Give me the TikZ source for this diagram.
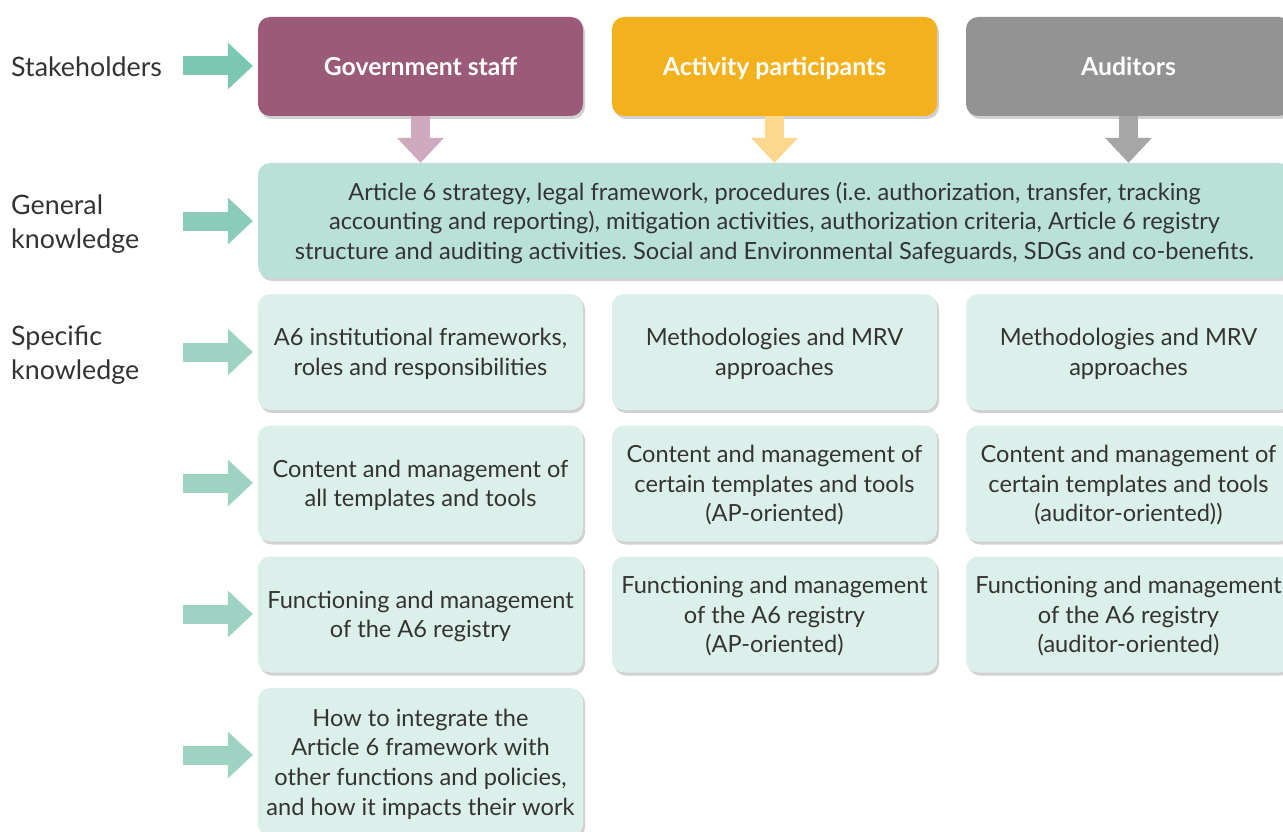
\documentclass[tikz,border=0pt]{standalone}
\usepackage{fontspec}
\setmainfont{Lato}
\usepackage{xcolor}
\usepackage{tikz}
\usetikzlibrary{arrows.meta,shadows,calc}
\frenchspacing
\definecolor{govcol}{HTML}{9B5A78}
\definecolor{apcol}{HTML}{F3B11E}
\definecolor{audcol}{HTML}{939393}
\definecolor{gencol}{HTML}{B9E1D8}
\definecolor{speccol}{HTML}{DCF0EB}
\definecolor{txtcol}{HTML}{333333}
\definecolor{govarr}{HTML}{CFA9BE}
\definecolor{aparr}{HTML}{FDD78E}
\definecolor{audarr}{HTML}{A6A6A6}
\definecolor{sharr}{HTML}{7CC7B1}
\definecolor{genarr}{HTML}{8ACBB9}
\definecolor{specarr}{HTML}{9ED3C4}

\begin{document}
\begin{tikzpicture}[x=1pt,y=-1pt,
  box/.style={rectangle,rounded corners=12pt,minimum width=325pt,inner sep=2pt,
    align=center,text=txtcol,text depth=0pt,font=\fontsize{23.6}{29.6}\selectfont,
    drop shadow={shadow xshift=2pt,shadow yshift=-3pt,fill=black,opacity=0.18}},
  headbox/.style={box,minimum height=99pt,text=white,text height=20pt,text depth=1pt,
    font=\fontsize{24.8}{29.6}\selectfont\bfseries},
  specbox/.style={box,fill=speccol,minimum height=116pt},
  sidelabel/.style={anchor=west,inner sep=0pt,align=left,text=txtcol,font=\fontsize{26.8}{34}\selectfont},
  fatarrow/.style={line width=19pt,-{Triangle[length=25pt,width=47pt,line width=0pt]}}]
\useasboundingbox (0,0) rectangle (1283,832);
\clip (0,0) rectangle (1283,832);
\fill[white] (0,0) rectangle (1283,832);
% stakeholders
\node[headbox,fill=govcol] (gov) at (420.5,66.5) {Government staff};
\node[headbox,fill=apcol] (ap) at (774.5,66.5) {Activity participants};
\node[headbox,fill=audcol] (aud) at (1128.5,66.5) {Auditors};
% general knowledge
\node[box,fill=gencol,minimum width=1033pt,minimum height=115pt] (gen) at (774.5,220.5)
  {Article 6 strategy, legal framework, procedures (i.e. authorization, transfer, tracking\\
   accounting and reporting), mitigation activities, authorization criteria, Article 6 registry\\
   structure and auditing activities. Social and Environmental Safeguards, SDGs and co-benefits.};
% specific knowledge
\node[specbox] (g1) at (420.5,352) {A6 institutional frameworks,\\ roles and responsibilities};
\node[specbox] (a1) at (774.5,352) {Methodologies and MRV\\ approaches};
\node[specbox] (u1) at (1128.5,352) {Methodologies and MRV\\ approaches};
\node[specbox] (g2) at (420.5,483.5) {Content and management of\\ all templates and tools};
\node[specbox] (a2) at (774.5,483.5) {Content and management of\\ certain templates and tools\\ (AP-oriented)};
\node[specbox] (u2) at (1128.5,483.5) {Content and management of\\ certain templates and tools\\ (auditor-oriented))};
\node[specbox] (g3) at (420.5,614.5) {Functioning and management\\ of the A6 registry};
\node[specbox] (a3) at (774.5,614.5) {Functioning and management\\ of the A6 registry\\ (AP-oriented)};
\node[specbox] (u3) at (1128.5,614.5) {Functioning and management\\ of the A6 registry\\ (auditor-oriented)};
\node[specbox,minimum height=148pt] (g4) at (420.5,762)
  {How to integrate the\\ Article 6 framework with\\ other functions and policies,\\ and how it impacts their work};
% side labels
\node[sidelabel] (lsh) at (11,67) {Stakeholders};
\node[sidelabel] (lgen) at (11,224) {General\\ knowledge};
\node[sidelabel] (lspec) at (11,355) {Specific\\ knowledge};
%%
\draw[fatarrow,govarr] (gov.south) -- (gov.south |- gen.north);
\draw[fatarrow,aparr] (ap.south) -- (ap.south |- gen.north);
\draw[fatarrow,audarr] (aud.south) -- (aud.south |- gen.north);
\coordinate (s0) at (183,66);
\coordinate (s1) at (183,221);
\coordinate (s2) at (183,352);
\coordinate (s3) at (183,483);
\coordinate (s4) at (183,614);
\coordinate (s5) at (183,755);
\draw[fatarrow,sharr] (s0) -- ([xshift=-5pt]gov.west |- s0);
\draw[fatarrow,genarr] (s1) -- ([xshift=-5pt]gen.west |- s1);
\draw[fatarrow,specarr] (s2) -- ([xshift=-5pt]g1.west |- s2);
\draw[fatarrow,specarr] (s3) -- ([xshift=-5pt]g2.west |- s3);
\draw[fatarrow,specarr] (s4) -- ([xshift=-5pt]g3.west |- s4);
\draw[fatarrow,specarr] (s5) -- ([xshift=-5pt]g4.west |- s5);
\end{tikzpicture}
\end{document}
